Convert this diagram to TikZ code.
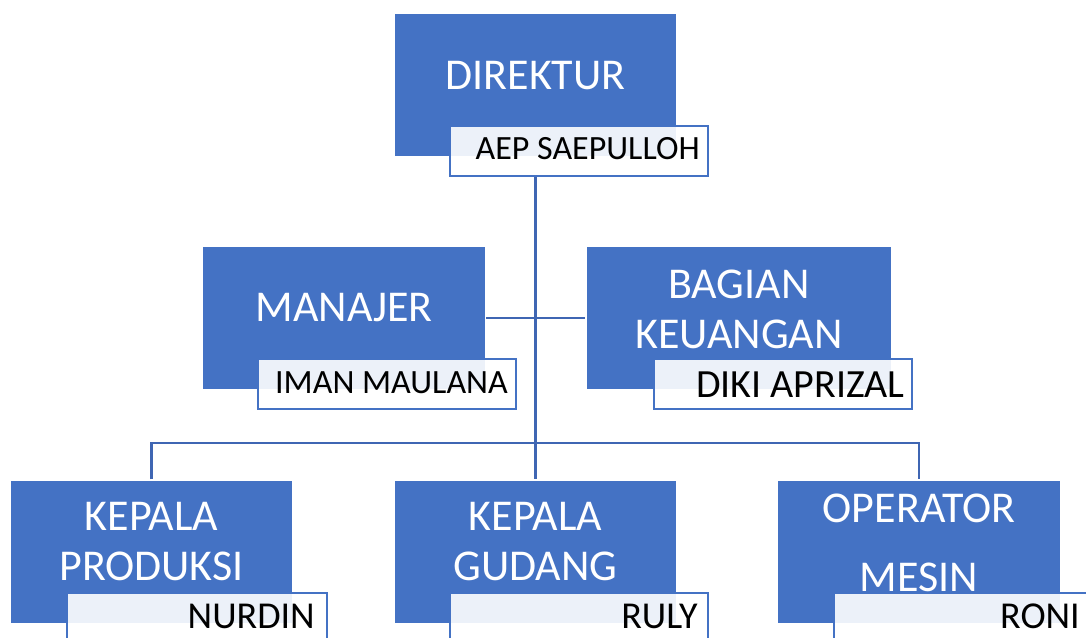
\documentclass[tikz,border=0pt]{standalone}
\usepackage{fontspec}
\setmainfont{Carlito}
\definecolor{boxblue}{HTML}{4472C4}
\definecolor{lineblue}{HTML}{3F66B3}
\tikzset{
  titlebox/.style={draw=white, line width=0.8pt, fill=boxblue, minimum height=108pt, inner sep=0pt},
  namebox/.style={draw=boxblue, line width=1.3pt, fill=white, fill opacity=0.9, draw opacity=1,
    minimum width=193.5pt, minimum height=37.5pt, inner sep=0pt},
  nametext/.style={anchor=base east, inner sep=0pt, text=black},
  titletext/.style={text=white, font=\fontsize{33}{37.5}\selectfont, align=center, inner sep=0pt},
  conn/.style={draw=lineblue, line width=1.6pt},
}
\begin{document}
\begin{tikzpicture}[x=0.75pt,y=-0.75pt]
\useasboundingbox (0,0) rectangle (1086,638);
\clip (0,0) rectangle (1086,638);
% boxes
\node[titlebox, minimum width=212.25pt] (dir) at (535.5,85) {};
\node[titlebox, minimum width=212.25pt] (man) at (344,318) {};
\node[titlebox, minimum width=229.5pt] (bag) at (739,318) {};
\node[titlebox, minimum width=212.25pt] (kp) at (151.5,552) {};
\node[titlebox, minimum width=212.25pt] (kg) at (535.5,552) {};
\node[titlebox, minimum width=212.25pt] (om) at (919,552) {};
% connectors
\coordinate (bus) at (535.5,443);
\draw[conn] (man.east) -- (bag.west);
\draw[conn] (dir.center |- 0,176) -- (kg.north);
\draw[conn] (kp.north) |- (bus) -| (om.north);
% titles
\node[titletext] (t1) at (535.5,76) {DIREKTUR};
\node[titletext] (t2) at (344,308) {MANAJER};
\node[titletext] (t3) at (739,309) {BAGIAN\\KEUANGAN};
\node[titletext] (t4) at (151.5,542) {KEPALA\\PRODUKSI};
\node[titletext] (t5) at (535.5,542) {KEPALA\\GUDANG};
\node[titletext, font=\fontsize{33}{52}\selectfont] (t6) at (919,543) {OPERATOR\\MESIN};
% name boxes
\node[namebox] (n1) at (579,151) {};
\node[namebox] (n2) at (387,384) {};
\node[namebox] (n3) at (783,384) {};
\node[namebox, minimum width=195pt] (n4) at (197,618) {};
\node[namebox] (n5) at (579,618) {};
\node[namebox] (n6) at (963,618) {};
% names
\node[nametext, font=\fontsize{25.5}{30}\selectfont] (m1) at (700,160) {AEP SAEPULLOH};
\node[nametext, font=\fontsize{25.5}{30}\selectfont] (m2) at (508,393) {IMAN MAULANA};
\node[nametext, font=\fontsize{30}{36}\selectfont] (m3) at (905,397) {DIKI APRIZAL};
\node[nametext, font=\fontsize{28.5}{34}\selectfont] (m4) at (315,628) {NURDIN};
\node[nametext, font=\fontsize{28.5}{34}\selectfont] (m5) at (698,628) {RULY};
\node[nametext, font=\fontsize{28.5}{34}\selectfont] (m6) at (1080,628) {RONI};
\end{tikzpicture}
\end{document}
